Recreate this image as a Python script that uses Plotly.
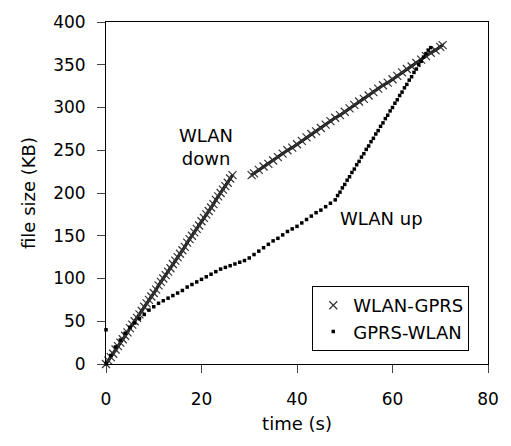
import plotly.graph_objects as go

# WLAN-GPRS handover run (x markers): WLAN segment, then GPRS segment
wg_x1 = [0, 0.5, 1, 1.5, 2, 2.5, 3, 3.5, 4, 4.5, 5, 5.5, 6, 6.5, 7, 7.5, 8, 8.5,
         9, 9.5, 10, 10.5, 11, 11.5, 12, 12.5, 13, 13.5, 14, 14.5, 15, 15.5, 16, 16.5,
         17, 17.5, 18, 18.5, 19, 19.5, 20, 20.5, 21, 21.5, 22, 22.5, 23, 23.5, 24, 24.5,
         25, 25.5, 26, 26.5]
wg_y1 = [0, 4, 8, 12, 17, 21, 25, 29, 33, 37, 42, 46, 50, 54, 58, 62, 67, 71,
         75, 79, 83, 87, 92, 96, 100, 104, 108, 112, 117, 121, 125, 129, 133, 137,
         142, 146, 150, 154, 158, 162, 167, 171, 175, 179, 183, 187, 192, 196, 200, 204,
         208, 212, 217, 221]
wg_x2 = [30.5, 31, 32, 33, 34, 35, 36, 37, 38, 39, 40, 41, 42, 43, 44, 45, 46, 47, 48,
         49, 50, 51, 52, 53, 54, 55, 56, 57, 58, 59, 60, 61, 62, 63, 64, 65, 66, 67, 68,
         69, 70, 70.5]
wg_y2 = [221, 223, 227, 231, 234, 238, 242, 246, 250, 253, 257, 261, 265, 269, 272, 276,
         280, 284, 288, 291, 295, 299, 303, 307, 310, 314, 318, 322, 326, 329, 333, 337,
         341, 345, 348, 352, 356, 360, 364, 367, 371, 373]

# GPRS-WLAN handover run (dots)
gw_x = [0, 0, 1, 2, 3, 4, 5, 6, 7, 8, 9, 10, 11, 12, 13, 14, 15, 16, 17, 18, 19, 20,
        21, 22, 23, 24, 25, 26, 27, 28, 29, 30, 31, 32, 33, 34, 35, 36, 37, 38, 39, 40,
        41, 42, 43, 44, 45, 46, 47,
        48, 48.5, 49, 49.5, 50, 50.5, 51, 51.5, 52, 52.5, 53, 53.5, 54, 54.5, 55, 55.5,
        56, 56.5, 57, 57.5, 58, 58.5, 59, 59.5, 60, 60.5, 61, 61.5, 62, 62.5, 63, 63.5,
        64, 64.5, 65, 65.5, 66, 66.5, 67, 67.5, 68]
gw_y = [40, 0, 10, 20, 28, 36, 43, 48, 53, 58, 63, 67, 71, 74, 77, 80, 83, 86, 90, 93,
        96, 99, 102, 105, 108, 111, 113, 115, 117, 119, 121, 124, 128, 132, 136, 140, 144,
        147, 151, 155, 158, 161, 165, 169, 173, 177, 180, 184, 188,
        192, 197, 201, 206, 210, 215, 219, 224, 228, 233, 237, 242, 246, 251, 255, 260,
        264, 269, 273, 278, 282, 287, 291, 296, 300, 305, 309, 314, 318, 323, 327, 332,
        336, 341, 345, 350, 354, 359, 363, 367, 370]

x_ticks = [0, 20, 40, 60, 80]
y_ticks = [0, 50, 100, 150, 200, 250, 300, 350, 400]

FONT = "DejaVu Sans, Arial, sans-serif"

fig = go.Figure()
# dark core of the dense WLAN-GPRS marker band
fig.add_trace(go.Scatter(
    x=wg_x1 + [None] + wg_x2, y=wg_y1 + [None] + wg_y2, mode="lines",
    line=dict(color="black", width=3), showlegend=False, hoverinfo="skip",
    cliponaxis=False,
))
fig.add_trace(go.Scatter(
    x=wg_x1 + [None] + wg_x2, y=wg_y1 + [None] + wg_y2, mode="markers",
    name="WLAN-GPRS",
    marker=dict(symbol="x-thin", size=8, line=dict(width=1.2, color="#333333"), color="#333333"),
    cliponaxis=False,
))
fig.add_trace(go.Scatter(
    x=gw_x, y=gw_y, mode="markers", name="GPRS-WLAN",
    marker=dict(symbol="square", size=3.5, color="black"),
    cliponaxis=False,
))

fig.add_annotation(x=21, y=254, text="WLAN<br>down", showarrow=False,
                   font=dict(family=FONT, size=18, color="black"), xref="x", yref="y")
fig.add_annotation(x=57.7, y=170, text="WLAN up", showarrow=False,
                   font=dict(family=FONT, size=18, color="black"), xref="x", yref="y")

fig.update_layout(
    width=511, height=446,
    margin=dict(l=106, r=21, t=19, b=82),
    paper_bgcolor="white", plot_bgcolor="white",
    font=dict(family=FONT, size=17, color="black"),
    showlegend=True,
    legend=dict(x=0.54, y=0.133, xanchor="left", yanchor="middle",
                bordercolor="black", borderwidth=1, bgcolor="white",
                font=dict(family=FONT, size=18), itemwidth=30,
                tracegroupgap=0),
    xaxis=dict(range=[0, 80], tickvals=x_ticks, ticks="outside", ticklen=8,
               ticklabelstandoff=12,
               showline=True, linecolor="black", linewidth=1, mirror=True,
               showgrid=False, zeroline=False,
               title=dict(text="time (s)", font=dict(size=18), standoff=8),
               tickfont=dict(size=17)),
    yaxis=dict(range=[0, 400], tickvals=y_ticks, ticks="outside", ticklen=8,
               ticklabelstandoff=8,
               showline=True, linecolor="black", linewidth=1, mirror=True,
               showgrid=False, zeroline=False,
               title=dict(text="file size (KB)", font=dict(size=18), standoff=12),
               tickfont=dict(size=17)),
)

fig.write_html("out.html", config={"displayModeBar": False},
               post_script="document.body.style.margin='0';")
